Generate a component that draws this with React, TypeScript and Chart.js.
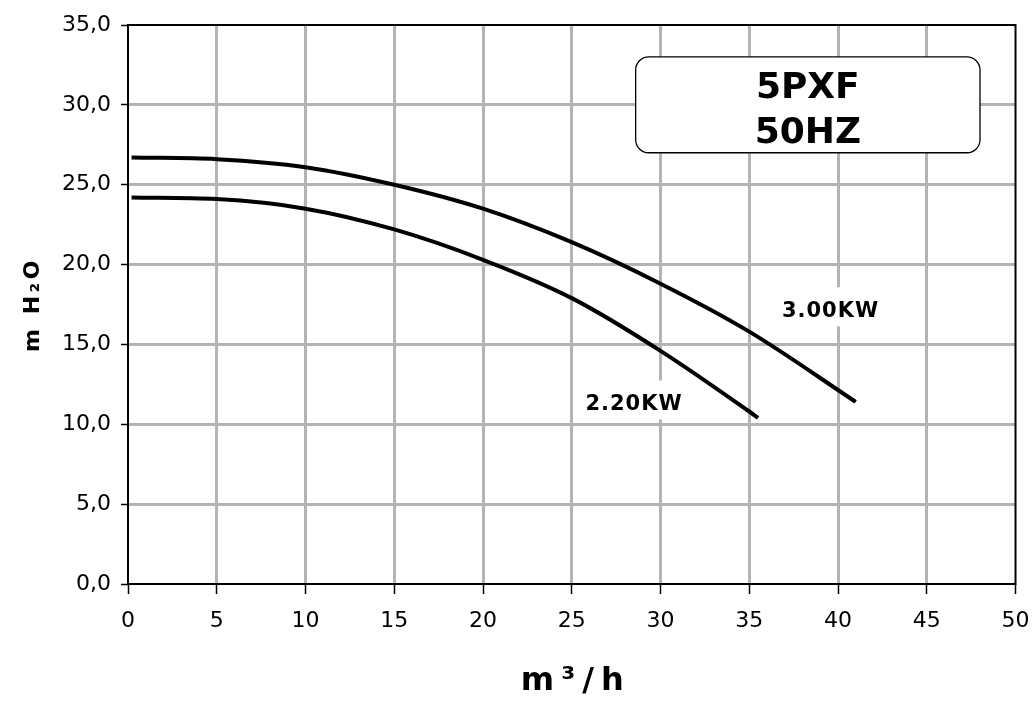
import React, { useEffect, useRef } from "react";
import { Chart, registerables } from "chart.js";

Chart.register(...registerables);

// ---- data ----
const flow300 = [0.2, 5, 10, 15, 20, 25, 30, 35, 41];
const head300 = [26.7, 26.6, 26.1, 25.0, 23.5, 21.4, 18.8, 15.8, 11.4];
const flow220 = [0.2, 5, 10, 15, 20, 25, 30, 35, 35.5];
const head220 = [24.2, 24.1, 23.5, 22.2, 20.3, 17.9, 14.6, 10.8, 10.4];
const seriesLabels = ["3.00KW", "2.20KW"];
const titleLines = ["5PXF", "50HZ"];
const xTitle = "m³/h";
const yTitle = "m H₂O";
const xMin = 0, xMax = 50, xStep = 5;
const yMin = 0, yMax = 35, yStep = 5;

const FONT = "'DejaVu Sans', Verdana, sans-serif";
const GRID = "#b4b4b4";

const decor = {
  id: "decor",
  beforeDatasetsDraw(chart: any) {
    const { ctx, chartArea: a } = chart;
    ctx.save();
    ctx.strokeStyle = "#000";
    ctx.lineWidth = 2;
    ctx.strokeRect(a.left, a.top, a.right - a.left, a.bottom - a.top);
    ctx.restore();
  },
  afterDatasetsDraw(chart: any) {
    const { ctx } = chart;
    const xs = chart.scales.x;
    const ys = chart.scales.y;
    ctx.save();

    // series labels with white background
    const lbls = [
      { text: seriesLabels[0], x: 39.55, y: 17.2 },
      { text: seriesLabels[1], x: 28.48, y: 11.37 },
    ];
    ctx.font = `bold 21px ${FONT}`;
    (ctx as any).letterSpacing = "1px";
    ctx.textAlign = "center";
    ctx.textBaseline = "alphabetic";
    for (const l of lbls) {
      const px = xs.getPixelForValue(l.x);
      const py = ys.getPixelForValue(l.y);
      const w = ctx.measureText(l.text).width;
      ctx.fillStyle = "#fff";
      ctx.fillRect(px - w / 2 - 8, py - 22, w + 16, 39);
      ctx.fillStyle = "#000";
      ctx.fillText(l.text, px + 0.5, py + 7.5);
    }

    // title box
    const bx0 = xs.getPixelForValue(28.6);
    const bx1 = xs.getPixelForValue(48.0);
    const by0 = ys.getPixelForValue(33.0);
    const by1 = ys.getPixelForValue(27.0);
    ctx.beginPath();
    (ctx as any).roundRect(bx0, by0, bx1 - bx0, by1 - by0, 13);
    ctx.fillStyle = "#fff";
    ctx.fill();
    ctx.lineWidth = 1.3;
    ctx.strokeStyle = "#000";
    ctx.stroke();
    ctx.fillStyle = "#000";
    ctx.font = `bold 36px ${FONT}`;
    (ctx as any).letterSpacing = "0px";
    const cx = (bx0 + bx1) / 2;
    ctx.fillText(titleLines[0], cx, by0 + 41);
    ctx.fillText(titleLines[1], cx, by0 + 86.5);

    // axis titles
    const a = chart.chartArea;
    ctx.font = `bold 32px ${FONT}`;
    (ctx as any).letterSpacing = "7px";
    ctx.fillText(xTitle, (a.left + a.right) / 2 + 4, 690);

    ctx.translate(39, (a.top + a.bottom) / 2 + 1);
    ctx.rotate(-Math.PI / 2);
    ctx.font = `bold 22px ${FONT}`;
    (ctx as any).letterSpacing = "3.5px";
    ctx.fillText(yTitle, 1, 0);
    ctx.restore();
  },
};

const edgeColor = (lo: number, hi: number) => (c: any) =>
  c.tick && (c.tick.value === lo || c.tick.value === hi) ? "rgba(0,0,0,0)" : GRID;

export default function App() {
  const ref = useRef<HTMLCanvasElement>(null);
  useEffect(() => {
    if (!ref.current) return;
    const chart = new Chart(ref.current, {
      type: "line",
      data: {
        datasets: [
          {
            label: seriesLabels[0],
            data: flow300.map((x, i) => ({ x, y: head300[i] })),
            borderColor: "#000",
            borderWidth: 4,
            pointRadius: 0,
            cubicInterpolationMode: "monotone",
            fill: false,
          },
          {
            label: seriesLabels[1],
            data: flow220.map((x, i) => ({ x, y: head220[i] })),
            borderColor: "#000",
            borderWidth: 4,
            pointRadius: 0,
            cubicInterpolationMode: "monotone",
            fill: false,
          },
        ],
      },
      options: {
        responsive: false,
        animation: false,
        devicePixelRatio: 1,
        layout: { padding: { left: 0, top: 25, right: 16.5, bottom: 0 } },
        plugins: { legend: { display: false }, tooltip: { enabled: false } },
        scales: {
          x: {
            type: "linear",
            min: xMin,
            max: xMax,
            afterFit: (s: any) => {
              s.height = 124;
              s.paddingLeft = 0;
              s.paddingRight = 0;
            },
            ticks: {
              stepSize: xStep,
              color: "#000",
              font: { family: FONT, size: 22 },
              padding: 14,
            },
            grid: {
              color: edgeColor(xMin, xMax),
              lineWidth: 3,
              tickColor: "#000",
              tickWidth: 1.5,
              tickLength: 10,
            },
            border: { display: false },
          },
          y: {
            type: "linear",
            min: yMin,
            max: yMax,
            afterFit: (s: any) => {
              s.width = 128;
              s.paddingTop = 0;
              s.paddingBottom = 0;
            },
            ticks: {
              stepSize: yStep,
              color: "#000",
              font: { family: FONT, size: 22 },
              padding: 10,
              callback: (v: any) => Number(v).toFixed(1).replace(".", ","),
            },
            grid: {
              color: edgeColor(yMin, yMax),
              lineWidth: 3,
              tickColor: "#000",
              tickWidth: 1.5,
              tickLength: 7,
            },
            border: { display: false },
          },
        },
      },
      plugins: [decor],
    } as any);
    return () => chart.destroy();
  }, []);
  return (
    <div style={{ position: "absolute", left: 0, top: 0, width: 1032, height: 708, background: "#fff" }}>
      <canvas ref={ref} width={1032} height={708} />
    </div>
  );
}
